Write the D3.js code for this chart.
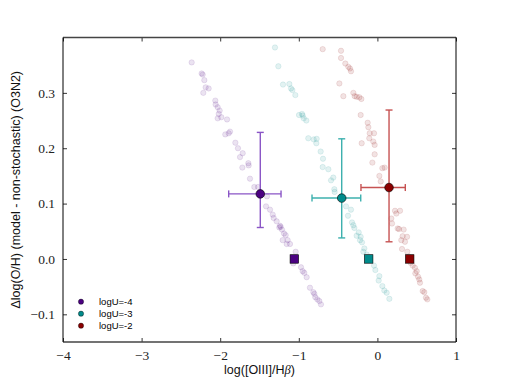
<!DOCTYPE html>
<html><head><meta charset="utf-8">
<script src="https://cdn.jsdelivr.net/npm/d3@7"></script>
<style>body{margin:0;background:#fff;}svg{display:block;}</style>
</head><body><svg id="c" width="507" height="380"></svg>
<script>
// ---- data ----
const seriesNames = ["logU=-4", "logU=-3", "logU=-2"];
const seriesColors = ["#4b0082", "#008b8b", "#8b0000"];
const barColors = ["#8a55c6", "#3cb0ae", "#c65252"];

const pointsU4 = [[-2.363,0.355],[-2.236,0.335],[-2.223,0.333],[-2.202,0.323],[-2.185,0.310],[-2.147,0.308],[-2.215,0.300],[-2.062,0.286],[-2.058,0.279],[-2.032,0.274],[-2.007,0.268],[-2.019,0.262],[-1.986,0.256],[-2.032,0.254],[-1.913,0.252],[-1.875,0.230],[-1.892,0.227],[-1.935,0.225],[-1.807,0.210],[-1.774,0.200],[-1.714,0.191],[-1.748,0.184],[-1.642,0.173],[-1.638,0.169],[-1.718,0.165],[-1.621,0.145],[-1.566,0.130],[-1.519,0.130],[-1.405,0.113],[-1.417,0.095],[-1.366,0.089],[-1.332,0.080],[-1.320,0.074],[-1.282,0.068],[-1.239,0.060],[-1.231,0.058],[-1.214,0.053],[-1.248,0.057],[-1.188,0.046],[-1.167,0.043],[-1.142,0.034],[-1.205,0.034],[-1.112,0.027],[-1.154,0.027],[-1.040,0.013],[-1.070,-0.008],[-0.972,-0.015],[-0.951,-0.022],[-0.930,-0.025],[-0.900,-0.033],[-0.858,-0.052],[-0.815,-0.060],[-0.802,-0.063],[-0.790,-0.069],[-0.764,-0.073],[-0.739,-0.076],[-0.718,-0.082]];
const pointsU3 = [[-1.303,0.382],[-1.260,0.348],[-1.201,0.315],[-1.120,0.316],[-1.099,0.308],[-1.082,0.305],[-1.044,0.296],[-0.997,0.260],[-0.959,0.262],[-0.951,0.259],[-0.938,0.254],[-0.904,0.250],[-0.879,0.218],[-0.811,0.216],[-0.773,0.217],[-0.777,0.209],[-0.722,0.194],[-0.692,0.181],[-0.696,0.166],[-0.624,0.162],[-0.561,0.147],[-0.590,0.142],[-0.548,0.126],[-0.544,0.121],[-0.399,0.095],[-0.336,0.089],[-0.374,0.078],[-0.323,0.066],[-0.306,0.061],[-0.293,0.056],[-0.238,0.048],[-0.264,0.042],[-0.213,0.040],[-0.221,0.034],[-0.196,0.030],[-0.166,0.019],[-0.179,0.013],[-0.137,0.008],[-0.043,-0.012],[-0.026,-0.020],[0.025,-0.031],[0.016,-0.039],[0.063,-0.049],[0.088,-0.057],[0.118,-0.061],[0.152,-0.072]];
const pointsU2 = [[-0.696,0.379],[-0.463,0.376],[-0.463,0.363],[-0.408,0.353],[-0.370,0.347],[-0.349,0.344],[-0.336,0.339],[-0.484,0.317],[-0.433,0.294],[-0.306,0.300],[-0.289,0.294],[-0.264,0.293],[-0.230,0.292],[-0.204,0.289],[-0.213,0.260],[-0.124,0.246],[-0.115,0.238],[-0.098,0.227],[-0.043,0.227],[-0.103,0.218],[-0.052,0.212],[-0.035,0.206],[-0.200,0.209],[-0.035,0.189],[-0.064,0.174],[0.063,0.164],[0.092,0.165],[0.025,0.150],[0.042,0.140],[0.224,0.087],[0.241,0.082],[0.288,0.087],[0.177,0.073],[0.186,0.064],[0.258,0.055],[0.275,0.054],[0.334,0.053],[0.321,0.041],[0.304,0.034],[0.377,0.040],[0.351,0.031],[0.313,0.018],[0.381,0.013],[0.398,0.004],[0.423,-0.007],[0.449,-0.012],[0.478,-0.016],[0.500,-0.022],[0.483,-0.026],[0.517,-0.032],[0.533,-0.037],[0.542,-0.043],[0.576,-0.058],[0.597,-0.060],[0.618,-0.070],[0.635,-0.073]];

// mean points with asymmetric error bounds
const meanX = [-1.49, -0.454, 0.148];
const meanY = [0.1175, 0.110, 0.129];
const xErrLow = [-1.892, -0.832, -0.209];
const xErrHigh = [-1.226, -0.212, 0.355];
const yErrLow = [0.0568, 0.038, 0.031];
const yErrHigh = [0.2286, 0.217, 0.269];
// non-stochastic reference (squares)
const refX = [-1.057, -0.111, 0.411];
const refY = [0.0, 0.0, 0.0];

const xTicks = [-4, -3, -2, -1, 0, 1];
const yTicks = [-0.1, 0.0, 0.1, 0.2, 0.3];

// ---- layout ----
const svg = d3.select("#c");
const m = {l: 63, r: 51, t: 37.5, b: 38};
const W = 507, H = 380;
const x = d3.scaleLinear().domain([-4, 1]).range([m.l, W - m.r]);
const y = d3.scaleLinear().domain([-0.15, 0.4]).range([H - m.b, m.t]);

const fmtMinus = s => s.replace("-", "\u2212");

// scatter
const allPts = [pointsU4, pointsU3, pointsU2];
allPts.forEach((pts, i) => {
  svg.append("g").selectAll("circle").data(pts).join("circle")
    .attr("cx", d => x(d[0])).attr("cy", d => y(d[1])).attr("r", 2.7)
    .attr("fill", seriesColors[i]).attr("fill-opacity", 0.11)
    .attr("stroke", seriesColors[i]).attr("stroke-opacity", 0.13).attr("stroke-width", 0.8);
});

// error bars
const cap = 3.5;
meanX.forEach((mx, i) => {
  const g = svg.append("g").attr("stroke", barColors[i]).attr("stroke-width", 1.4).attr("fill", "none");
  g.append("line").attr("x1", x(xErrLow[i])).attr("x2", x(xErrHigh[i])).attr("y1", y(meanY[i])).attr("y2", y(meanY[i]));
  g.append("line").attr("x1", x(mx)).attr("x2", x(mx)).attr("y1", y(yErrLow[i])).attr("y2", y(yErrHigh[i]));
  [xErrLow[i], xErrHigh[i]].forEach(v => g.append("line").attr("x1", x(v)).attr("x2", x(v)).attr("y1", y(meanY[i]) - cap).attr("y2", y(meanY[i]) + cap));
  [yErrLow[i], yErrHigh[i]].forEach(v => g.append("line").attr("y1", y(v)).attr("y2", y(v)).attr("x1", x(mx) - cap).attr("x2", x(mx) + cap));
  svg.append("circle").attr("cx", x(mx)).attr("cy", y(meanY[i])).attr("r", 4.3)
    .attr("fill", seriesColors[i]).attr("stroke", "#000").attr("stroke-width", 0.6);
});

// squares
refX.forEach((rx, i) => {
  const s = 8.5;
  svg.append("rect").attr("x", x(rx) - s / 2).attr("y", y(refY[i]) - s / 2).attr("width", s).attr("height", s)
    .attr("fill", seriesColors[i]).attr("stroke", "#000").attr("stroke-width", 0.6);
});

// axes (ticks inward on all sides)
const tl = 4;
const axB = svg.append("g").attr("transform", `translate(0,${H - m.b})`)
  .call(d3.axisBottom(x).tickValues(xTicks).tickSizeInner(-tl).tickSizeOuter(0).tickPadding(7).tickFormat(d => fmtMinus(String(d))));
const axT = svg.append("g").attr("transform", `translate(0,${m.t})`)
  .call(d3.axisTop(x).tickValues(xTicks).tickSizeInner(-tl).tickSizeOuter(0).tickFormat(""));
const axL = svg.append("g").attr("transform", `translate(${m.l},0)`)
  .call(d3.axisLeft(y).tickValues(yTicks).tickSizeInner(-tl).tickSizeOuter(0).tickPadding(8).tickFormat(d => fmtMinus(d3.format(".1f")(d))));
const axR = svg.append("g").attr("transform", `translate(${W - m.r},0)`)
  .call(d3.axisRight(y).tickValues(yTicks).tickSizeInner(-tl).tickSizeOuter(0).tickFormat(""));
[axB, axT, axL, axR].forEach(a => {
  a.select(".domain").remove();
  a.selectAll(".tick line").attr("stroke", "#000").attr("stroke-width", 0.8);
  a.selectAll("text").attr("font-family", "'Liberation Serif','DejaVu Serif',serif").attr("font-size", 13.5).attr("fill", "#222");
});
axB.selectAll("text").attr("dy", "0.85em");

// frame
svg.append("line").attr("x1", m.l).attr("x2", W - m.r).attr("y1", m.t).attr("y2", m.t).attr("stroke", "#444").attr("stroke-width", 1.4);
svg.append("line").attr("x1", m.l).attr("x2", W - m.r).attr("y1", H - m.b).attr("y2", H - m.b).attr("stroke", "#444").attr("stroke-width", 1.4);
svg.append("line").attr("x1", m.l).attr("x2", m.l).attr("y1", m.t).attr("y2", H - m.b).attr("stroke", "#000").attr("stroke-width", 1);
svg.append("line").attr("x1", W - m.r).attr("x2", W - m.r).attr("y1", m.t).attr("y2", H - m.b).attr("stroke", "#000").attr("stroke-width", 1);

// axis labels
const xl = svg.append("text").attr("x", (m.l + W - m.r) / 2).attr("y", 374).attr("text-anchor", "middle")
  .attr("font-family", "'Liberation Sans',Arial,sans-serif").attr("font-size", 12.5).attr("fill", "#111");
xl.append("tspan").text("log([OIII]/H");
xl.append("tspan").attr("font-family", "'Liberation Serif',serif").attr("font-style", "italic").text("\u03b2");
xl.append("tspan").text(")");

svg.append("text").attr("transform", `translate(20,${(m.t + H - m.b) / 2}) rotate(-90)`).attr("text-anchor", "middle")
  .attr("font-family", "'Liberation Sans',Arial,sans-serif").attr("font-size", 12.5).attr("fill", "#111")
  .text("\u0394log(O/H) (model - non-stochastic) (O3N2)");

// legend
const leg = svg.append("g");
seriesNames.forEach((n, i) => {
  const ly = 301.7 + i * 12;
  leg.append("circle").attr("cx", 81).attr("cy", ly).attr("r", 2.6).attr("fill", seriesColors[i]).attr("stroke", "#000").attr("stroke-width", 0.4);
  leg.append("text").attr("x", 99).attr("y", ly + 3.3).attr("font-family", "'Liberation Sans',Arial,sans-serif").attr("font-size", 9.5).text(n);
});
</script></body></html>
